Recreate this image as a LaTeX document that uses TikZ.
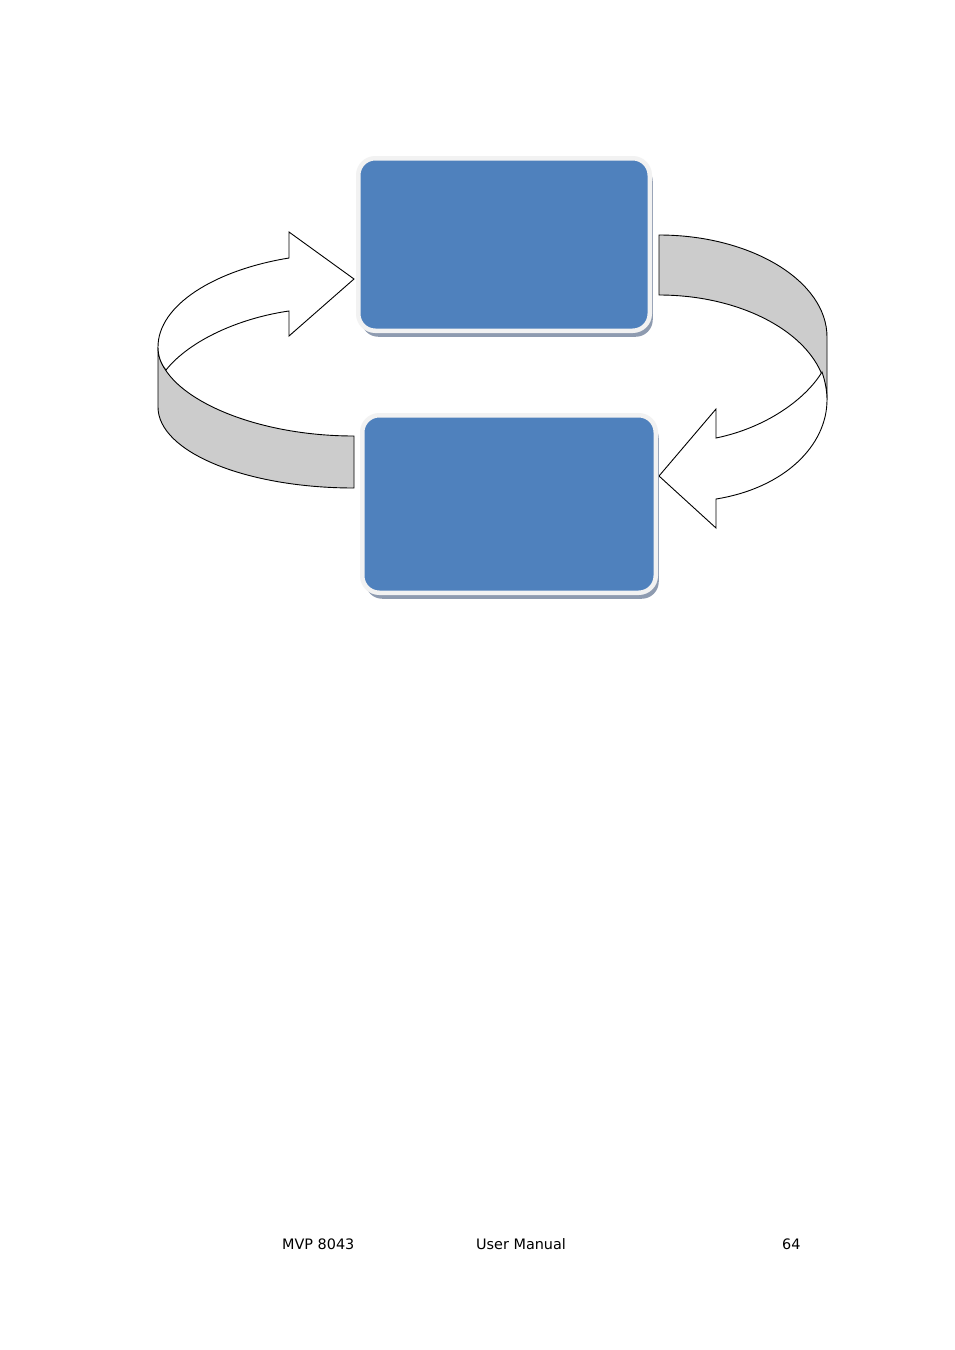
\documentclass[tikz,border=0pt]{standalone}
\usepackage{fontspec}
\setmainfont{DejaVu Sans}
\usetikzlibrary{shadows}
\definecolor{boxblue}{HTML}{4F81BD}
\definecolor{boxrim}{HTML}{F2F2F2}
\definecolor{boxshadow}{HTML}{8E9BB0}
\definecolor{band}{HTML}{CCCCCC}
\begin{document}
\begin{tikzpicture}[x=1pt,y=-1pt,
  stepbox/.style={rectangle, rounded corners=17pt, fill=boxblue, draw=boxrim, line width=4.5pt, inner sep=0pt,
     drop shadow={shadow xshift=3pt, shadow yshift=-6pt, fill=boxshadow, opacity=1}},
  arrowface/.style={fill=white, draw=black, line width=0.9pt, line join=miter},
  arrowband/.style={fill=band, draw=black, line width=0.9pt, line join=miter},
  foot/.style={anchor=base west, inner sep=0pt, font=\fontsize{14.4}{17}\selectfont}]
\useasboundingbox[fill=white] (0,0) rectangle (954,1350);

% left circular arrow (bottom box -> top box)
\draw[arrowband] (158,347) -- (158,407) .. controls (158,452) and (246,488) .. (354,488)
  -- (354,436) .. controls (246,436) and (158,392) .. cycle;
\draw[arrowface] (354,279) -- (289,232) -- (289,258) .. controls (215,270) and (158,305) .. (158,347)
  .. controls (158,356) and (161,364) .. (166,370) .. controls (190,340) and (240,318) .. (289,311)
  -- (289,336) -- cycle;

% right circular arrow (top box -> bottom box)
\draw[arrowband] (659,235) -- (659,295) .. controls (751,295) and (827,342) .. (827,400)
  -- (827,337) .. controls (827,281) and (751,235) .. cycle;
\draw[arrowface] (659,476) -- (716,409) -- (716,438) .. controls (765,428) and (805,400) .. (822,372)
  .. controls (825,381) and (827,390) .. (827,400) .. controls (827,445) and (785,488) .. (716,499)
  -- (716,528) -- cycle;

% boxes
\node[stepbox, minimum width=291.5pt, minimum height=172.5pt] (stepA) at (504,244.5) {};
\node[stepbox, minimum width=293.5pt, minimum height=177.5pt] (stepB) at (509,504) {};

% footer
\node[foot] (model) at (282,1249) {MVP 8043};
\node[foot] (title) at (476,1249) {User Manual};
\node[foot] (page) at (782,1249) {64};
\end{tikzpicture}
\end{document}
